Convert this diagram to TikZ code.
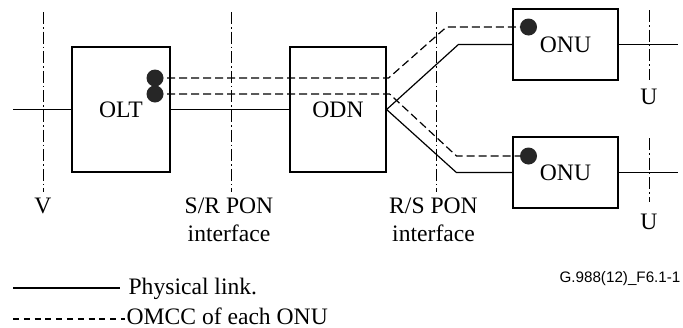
\documentclass[tikz,border=0pt]{standalone}
\usepackage{fontspec}
\setmainfont{Liberation Serif}
\newfontfamily\figidfont{Liberation Sans}
\begin{document}
\begin{tikzpicture}[
	x=0.5pt, y=-0.5pt,
	line width=0.6pt,
	font=\fontsize{11.8}{14}\selectfont,
	box/.style={draw, inner sep=0pt, minimum width=49pt, minimum height=62.5pt},
	onubox/.style={draw, inner sep=0pt, minimum width=52.5pt, minimum height=35.5pt},
	port/.style={circle, fill=black!85, inner sep=0pt, minimum size=8.5pt},
	omcc/.style={dash pattern=on 4pt off 2pt},
	refline/.style={dash pattern=on 6pt off 1.5pt on 0.8pt off 1.5pt, line width=0.5pt},
	lbl/.style={inner sep=0pt, anchor=north, align=center}]
   \useasboundingbox (0,0) rectangle (683,327);
   \node(olt)[box] at (121,109.5){OLT};
   \node(odn)[box, minimum width=48pt] at (338,109.5){ODN};
   \node(onutop)[onubox] at (565.5,44.5){ONU};
   \node(onubot)[onubox] at (565.5,172.5){ONU};
   \coordinate(vin) at (13,109.5);
   \coordinate(uouttop) at (678,44.5);
   \coordinate(uoutbot) at (678,172.5);
   \draw (vin) -- (olt.west);
   \draw (olt.east) -- (odn.west);
   \draw (odn.east) -- ([xshift=-27pt]onutop.west) -- (onutop.west);
   \draw (odn.east) -- ([xshift=-28pt]onubot.west) -- (onubot.west);
   \draw (onutop.east) -- (uouttop);
   \draw (onubot.east) -- (uoutbot);
   \coordinate(oltportup) at (155,78);
   \coordinate(oltportdown) at (155,94);
   \coordinate(onutopport) at (528.5,27);
   \coordinate(onubotport) at (528.5,156);
   \draw[omcc] (oltportup) -- ([xshift=1pt]odn.east |- oltportup) -- ([xshift=-41pt]onutopport) -- (onutopport);
   \draw[omcc] (oltportdown) -- ([xshift=1.5pt]odn.east |- oltportdown) -- ([xshift=-36pt]onubotport) -- (onubotport);
   \foreach \p in {oltportup,oltportdown,onutopport,onubotport}
      \node[port] at (\p){};
   \node(vlbl)[lbl] at (43,197){V};
   \node(srlbl)[lbl] at (229,197){S/R PON\\interface};
   \node(rslbl)[lbl] at (433.5,197){R/S PON\\interface};
   \node(utoplbl)[lbl] at (649,88){U};
   \node(ubotlbl)[lbl] at (649,213){U};
   \draw[refline] (43,12) -- (43,192);
   \draw[refline] (231,12) -- (231,192);
   \draw[refline] (436,12) -- (436,192);
   \draw[refline] (649,10) -- (649,80);
   \draw[refline] (649,138) -- (649,202);
   \node(physlbl)[anchor=base west, inner sep=0pt] at (128,294){Physical link.};
   \node(omcclbl)[anchor=base west, inner sep=0pt] at (126,324){OMCC of each ONU};
   \draw (13,288) -- (120,288);
   \draw[dash pattern=on 3pt off 2.4pt] (13,319) -- (125,319);
   \node(figid)[anchor=base east, inner sep=0pt, font=\figidfont\fontsize{7.6}{9}\selectfont] at (681,282){G.988(12)\_F6.1-1};
\end{tikzpicture}
\end{document}
